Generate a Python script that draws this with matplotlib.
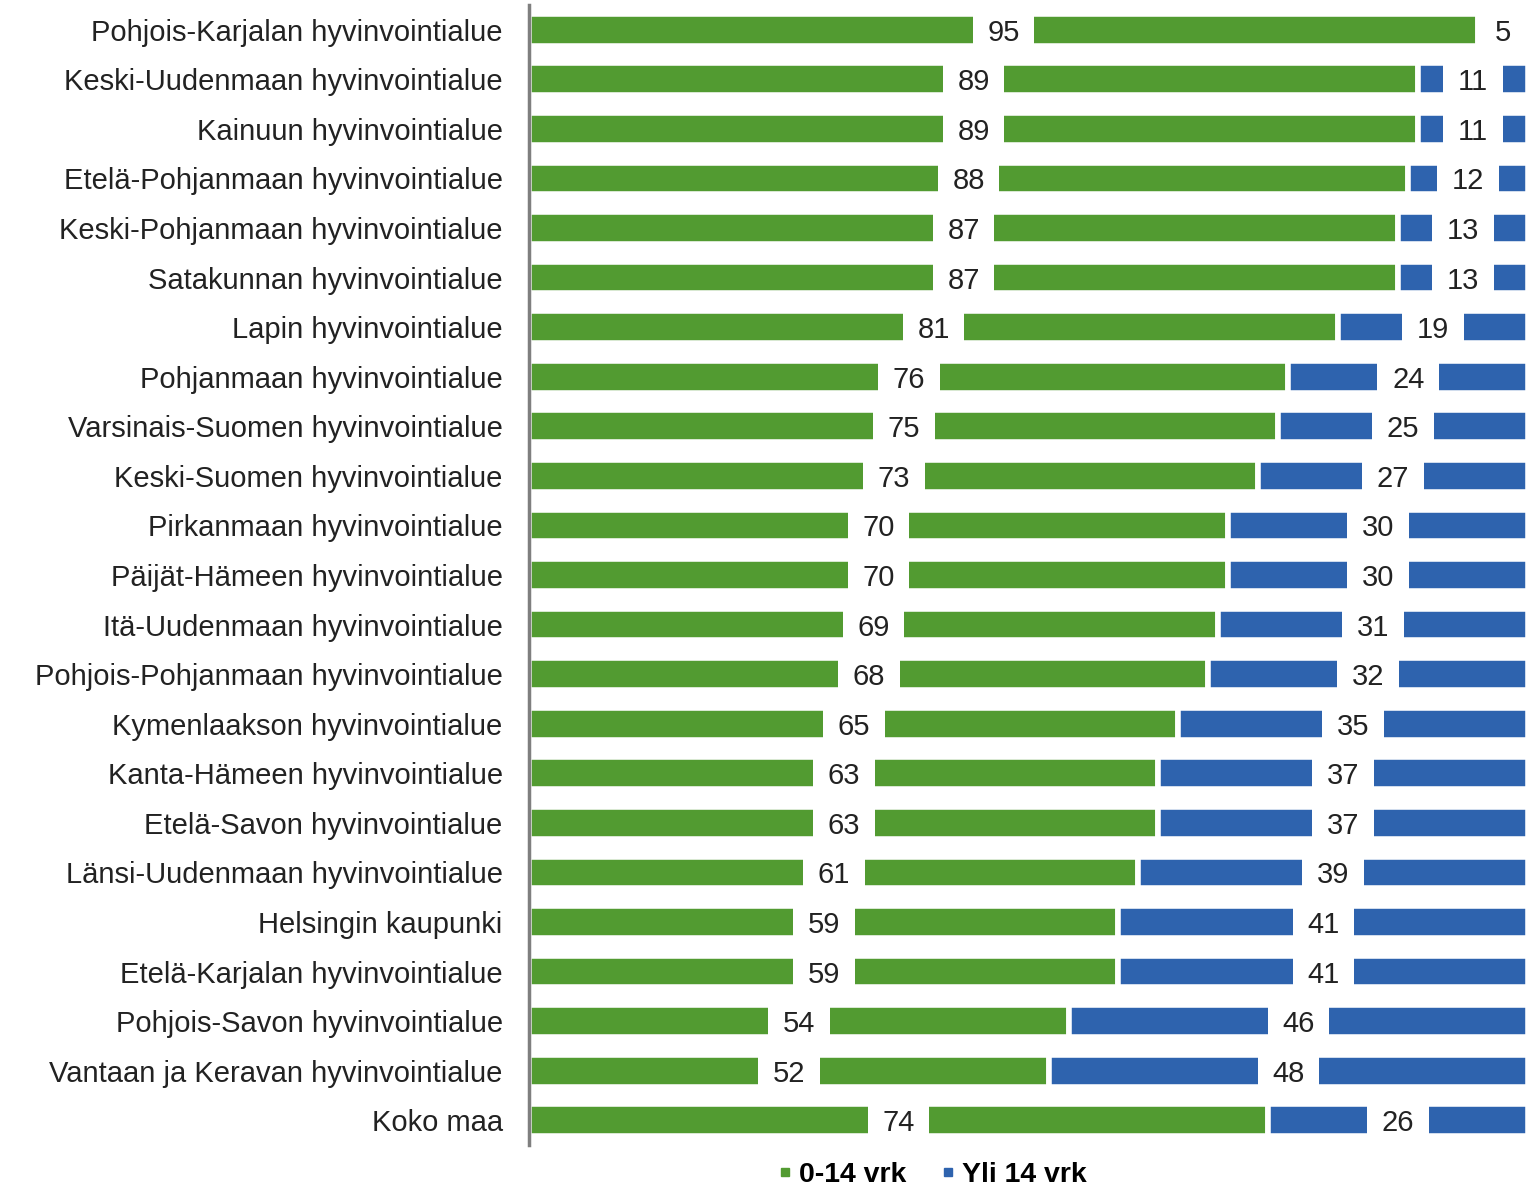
import matplotlib
matplotlib.use("Agg")
import matplotlib.pyplot as plt
from matplotlib.lines import Line2D
import numpy as np

plt.rcParams['font.family'] = ['Liberation Sans', 'DejaVu Sans']

regions = [
    "Pohjois-Karjalan hyvinvointialue",
    "Keski-Uudenmaan hyvinvointialue",
    "Kainuun hyvinvointialue",
    "Etelä-Pohjanmaan hyvinvointialue",
    "Keski-Pohjanmaan hyvinvointialue",
    "Satakunnan hyvinvointialue",
    "Lapin hyvinvointialue",
    "Pohjanmaan hyvinvointialue",
    "Varsinais-Suomen hyvinvointialue",
    "Keski-Suomen hyvinvointialue",
    "Pirkanmaan hyvinvointialue",
    "Päijät-Hämeen hyvinvointialue",
    "Itä-Uudenmaan hyvinvointialue",
    "Pohjois-Pohjanmaan hyvinvointialue",
    "Kymenlaakson hyvinvointialue",
    "Kanta-Hämeen hyvinvointialue",
    "Etelä-Savon hyvinvointialue",
    "Länsi-Uudenmaan hyvinvointialue",
    "Helsingin kaupunki",
    "Etelä-Karjalan hyvinvointialue",
    "Pohjois-Savon hyvinvointialue",
    "Vantaan ja Keravan hyvinvointialue",
    "Koko maa",
]
short_stay = [95, 89, 89, 88, 87, 87, 81, 76, 75, 73, 70, 70, 69, 68, 65, 63, 63, 61, 59, 59, 54, 52, 74]
long_stay = [5, 11, 11, 12, 13, 13, 19, 24, 25, 27, 30, 30, 31, 32, 35, 37, 37, 39, 41, 41, 46, 48, 26]

green = "#529b31"
blue = "#2e63ae"

fig = plt.figure(figsize=(15.29, 11.88), dpi=100)
ax = fig.add_axes([0.346, 0.0362, 0.6534, 0.9596])

y = np.arange(len(regions))
s = np.array(short_stay, dtype=float)
l = np.array(long_stay, dtype=float)
tot = s + l
s_pct = s / tot * 100
l_pct = l / tot * 100

# white edges give the small gap between the segments
ax.barh(y, s_pct, height=0.64, color=green, edgecolor="white", linewidth=4, zorder=2)
ax.barh(y, l_pct, left=s_pct, height=0.64, color=blue, edgecolor="white", linewidth=4, zorder=2)

# value labels sit on a white box that cuts the bar
box = dict(boxstyle="square,pad=0.5", fc="white", ec="none")
for i in range(len(regions)):
    ax.text(s_pct[i] / 2, y[i], str(short_stay[i]), ha="center", va="center_baseline",
            fontsize=21, color="#222222", bbox=box, zorder=3)
    ax.text(s_pct[i] + l_pct[i] / 2, y[i], str(long_stay[i]), ha="center", va="center_baseline",
            fontsize=21, color="#222222", bbox=box, zorder=3, clip_on=True)

ax.set_xlim(0, 100)
ax.set_ylim(len(regions) - 0.5, -0.5)
ax.set_yticks(y)
ax.set_yticklabels(regions, fontsize=21, color="#222222")
ax.tick_params(axis="y", length=0, pad=19)
ax.set_xticks([])
for sp in ["top", "right", "bottom"]:
    ax.spines[sp].set_visible(False)
ax.spines["left"].set_color("#7f7f7f")
ax.spines["left"].set_linewidth(2.5)
ax.spines["left"].set_zorder(4)

handles = [Line2D([], [], marker="s", color=green, linestyle="none", markersize=6),
           Line2D([], [], marker="s", color=blue, linestyle="none", markersize=6)]
fig.legend(handles, ["0-14 vrk", "Yli 14 vrk"], loc="center", bbox_to_anchor=(0.6097, 0.011),
           ncol=2, frameon=False, prop={"weight": "bold", "size": 20.5},
           handletextpad=0.25, columnspacing=1.2, handlelength=0.5)

fig.savefig("out.png", dpi=100)
